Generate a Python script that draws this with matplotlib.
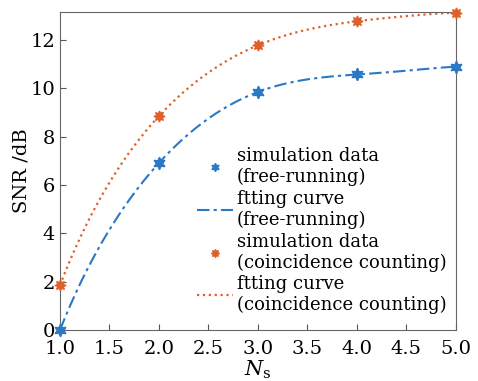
"""SNR vs N_s: simulation data and fitting curves."""
import numpy as np
import matplotlib
matplotlib.use("Agg")
import matplotlib.pyplot as plt
from matplotlib.lines import Line2D

# simulated points
ns = [1.0, 2.0, 3.0, 4.0, 5.0]
snr_free = [0.0, 6.9, 9.84, 10.57, 10.88]
snr_coinc = [1.85, 8.84, 11.77, 12.77, 13.12]

ns_fit = [1.0, 1.5, 2.0, 2.5, 3.0, 3.5, 4.0, 4.5, 5.0]
fit_free = [0.0, 4.15, 6.9, 8.75, 9.84, 10.36, 10.57, 10.72, 10.88]
fit_coinc = [1.85, 6.1, 8.84, 10.65, 11.77, 12.42, 12.77, 12.98, 13.12]

labels = ["simulation data\n(free-running)",
          "ftting curve\n(free-running)",
          "simulation data\n(coincidence counting)",
          "ftting curve\n(coincidence counting)"]

blue = "#2a78c6"
orange = "#e0602c"

plt.rcParams["font.family"] = "DejaVu Serif"
plt.rcParams["mathtext.fontset"] = "dejavuserif"

fig = plt.figure(figsize=(4.78, 3.81), dpi=100)
ax = fig.add_axes([0.1255, 0.134, 0.828, 0.8345])

# smooth the read-off fit samples for drawing
xf = np.linspace(1.0, 5.0, 300)
yf_free = np.polyval(np.polyfit(ns_fit, fit_free, 6), xf)
yf_coinc = np.polyval(np.polyfit(ns_fit, fit_coinc, 6), xf)

star6 = (6, 1, 0)
star8 = (8, 1, 0)
ax.plot(ns, snr_free, ls="none", marker=star6, ms=9, color=blue, zorder=3, clip_on=False)
ax.plot(xf, yf_free, ls=(0, (6, 2, 1.5, 2)), lw=1.5, color=blue)
ax.plot(ns, snr_coinc, ls="none", marker=star8, ms=8, color=orange, zorder=3, clip_on=False)
ax.plot(xf, yf_coinc, ls=":", lw=1.6, color=orange)

ax.set_xlim(1.0, 5.0)
ax.set_ylim(0, 13.15)
xt = np.arange(1.0, 5.01, 0.5)
ax.set_xticks(xt)
ax.set_xticklabels([f"{v:.1f}" for v in xt])
ax.set_yticks(range(0, 13, 2))
ax.tick_params(direction="in", labelsize=14, colors="#555555", labelcolor="black",
               length=4)
ax.tick_params(axis="x", pad=7)
for s in ax.spines.values():
    s.set_color("#666666")
ax.set_xlabel(r"$N_\mathrm{s}$", fontsize=15, labelpad=1)
ax.set_ylabel("SNR /dB", fontsize=14, labelpad=0)

handles = [Line2D([], [], ls="none", marker=star6, ms=6, color=blue),
           Line2D([], [], ls=(0, (6, 2, 1.5, 2)), lw=1.5, color=blue),
           Line2D([], [], ls="none", marker=star8, ms=6, color=orange),
           Line2D([], [], ls=":", lw=1.6, color=orange)]
ax.legend(handles, labels, loc="upper left", bbox_to_anchor=(0.346, 0.575),
          frameon=False, fontsize=13, handlelength=2.0, handletextpad=0.2,
          labelspacing=0.2, borderaxespad=0.0, borderpad=0.0)

fig.savefig("out.png", dpi=100)
